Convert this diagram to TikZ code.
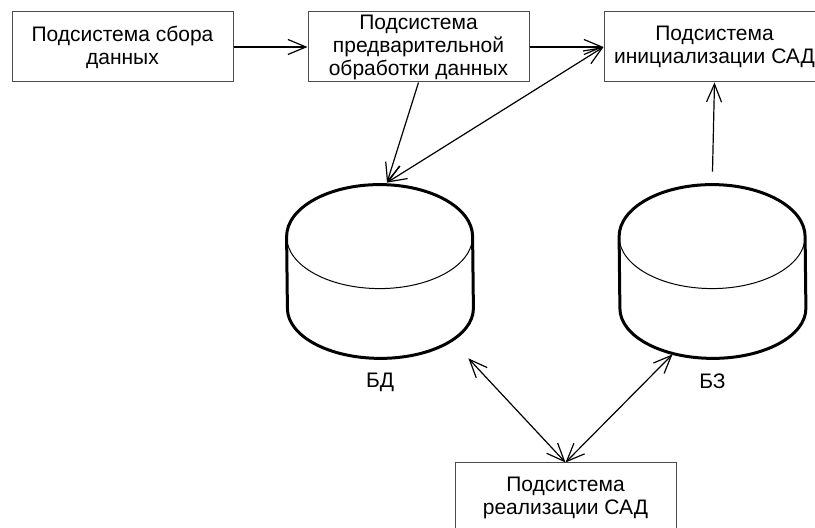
\documentclass[tikz,border=0pt]{standalone}
\usepackage{fontspec}
\setmainfont{Liberation Sans}
\usepackage{tikz}
\usetikzlibrary{positioning, arrows.meta}
\tikzset{
    >={Straight Barb[length=9pt, width=7.5pt]}, % open arrow heads
    line join=round, % round corners on the drums
    node distance=37pt, % gap between the boxes of the top row
}

\begin{document}
\begin{tikzpicture}[
                                x=0.5pt, y=0.5pt,
                                boxStyle/.style={draw=black!70, line width=0.5pt, minimum width=110.5pt, minimum height=35pt, inner sep=0.5pt, align=center, font=\fontsize{10.5}{11.5}\selectfont},
                                dbStyle/.style={minimum width=93pt, minimum height=86.5pt, inner sep=0pt},
                                labelStyle/.style={font=\fontsize{10.5}{11.5}\selectfont},
                            ]
                            \useasboundingbox (0,0) rectangle (815,528);
                            \node[boxStyle] (sbor) at (122.5,481) {Подсистема сбора\\данных};
                            \node[boxStyle, right=of sbor] (predobr) {Подсистема\\предварительной\\обработки данных};
                            \node[boxStyle, right=of predobr] (init) {Подсистема\\инициализации САД};
                            \node[dbStyle] (bd) at (380,256.5) {};
                            \node[dbStyle] (bz) at (712.5,256.5) {};
                            \node[labelStyle, below=4pt of bd] (bdLabel) {БД};
                            \node[labelStyle, below=4pt of bz] (bzLabel) {БЗ};
                            \node[boxStyle] (realiz) at (565.5,30) {Подсистема\\реализации САД};

                            % drums
                            \foreach \db in {bd, bz} {
                                \draw[line width=1.5pt] ([yshift=-26pt]\db.north west) arc[start angle=180, end angle=0, x radius=46.5pt, y radius=26pt]
                                    -- ([yshift=25pt]\db.south east) arc[start angle=0, end angle=-180, x radius=46.5pt, y radius=25pt] -- cycle;
                                \draw[line width=0.5pt] ([yshift=-26pt]\db.north west) arc[start angle=180, end angle=360, x radius=46.5pt, y radius=26pt];
                            }

                            \coordinate (bdIn) at ([xshift=3.5pt, yshift=1pt]bd.north);
                            \coordinate (bdOut) at ([xshift=-2.5pt]bd.south east);
                            \coordinate (bzOut) at ([xshift=-20pt, yshift=2pt]bz.south);
                            \coordinate (bzTop) at ([yshift=6.5pt]bz.north);

                            \draw[line width=0.6pt]
                            (sbor) edge[->] (predobr)
                            (predobr) edge[->] (init)
                            (predobr.south) edge[->] (bdIn)
                            (init.west) edge[<->] (bdIn)
                            (bzTop) edge[->] (init.south)
                            (realiz.north) edge[<->] (bdOut)
                            (realiz.north) edge[<->] (bzOut);
                        \end{tikzpicture}
\end{document}
